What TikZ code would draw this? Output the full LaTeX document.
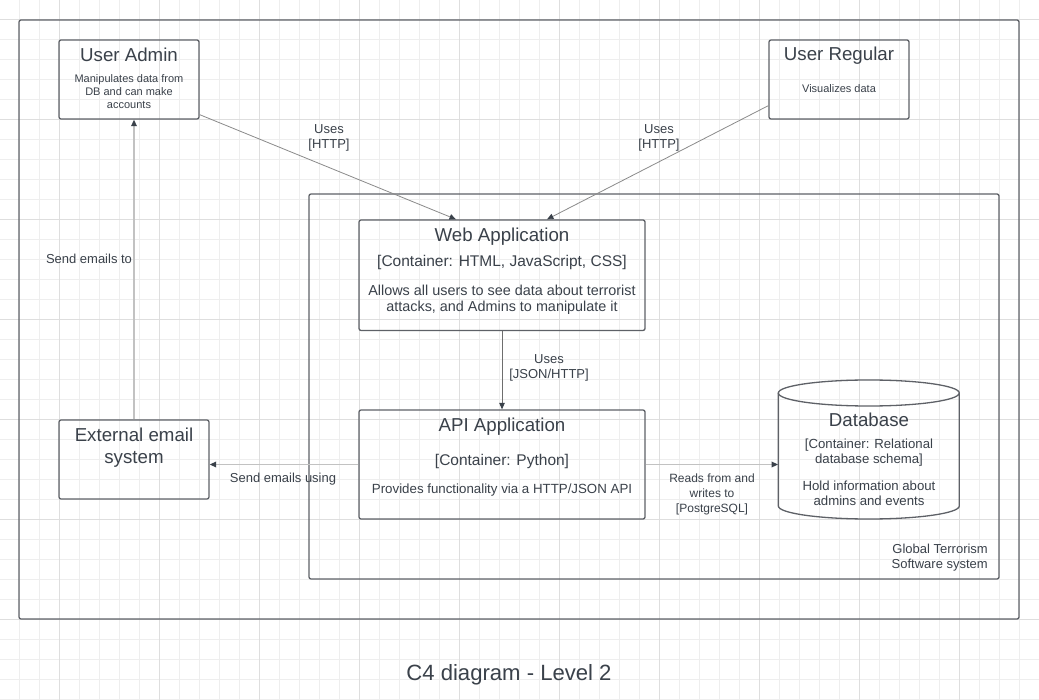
\documentclass[tikz,border=0pt]{standalone}
\usepackage{fontspec}
\setmainfont{Liberation Sans}
\usetikzlibrary{arrows.meta,calc}
\definecolor{textc}{HTML}{3A414A}
\definecolor{bordc}{HTML}{5E6167}
\definecolor{gridminor}{HTML}{EEEEEE}
\definecolor{gridmajor}{HTML}{DEDEDE}
\definecolor{lightline}{HTML}{C2C2C2}
\definecolor{midline}{HTML}{8A8A8A}
\newcommand\myfs[2]{\fontsize{#1}{#2}\selectfont}
\tikzset{
  frame/.style={draw=bordc, line width=1.3pt, rounded corners=2pt},
  box/.style={frame, inner sep=0pt},
  txt/.style={text=textc, inner sep=0pt, align=center, yshift=-0.8pt},
  ttl/.style={txt, font=\myfs{18.7}{22}},
  tip/.style={-{Triangle[length=6.5pt,width=5.5pt,color=textc]}},
  thinarrow/.style={tip, draw=midline, line width=0.8pt},
  lightarrow/.style={tip, draw=lightline, line width=1.6pt},
}
\begin{document}
\begin{tikzpicture}[x=1pt,y=-1pt]
% background and grid
\fill[white] (0,0) rectangle (1039,700);
\useasboundingbox (0,0) rectangle (1039,700);
\foreach \x in {19.3,39.3,...,1039} \draw[gridminor, line width=1pt] (\x,0) -- (\x,700);
\foreach \y in {19.5,39.5,...,700} \draw[gridminor, line width=1pt] (0,\y) -- (1039,\y);
\foreach \x in {59.3,159.3,...,1039} \draw[gridmajor, line width=1pt] (\x,0) -- (\x,700);
\foreach \y in {19.5,119.5,...,700} \draw[gridmajor, line width=1pt] (0,\y) -- (1039,\y);

% frames
\node[box, minimum width=1000pt, minimum height=599pt] (outer) at (519,319.5) {};
\node[box, minimum width=690pt, minimum height=385pt] (system) at (654,386.5) {};

% boxes
\node[box, minimum width=140pt, minimum height=79pt] (admin) at (129,79.5) {};
\node[box, minimum width=140pt, minimum height=79pt] (regular) at (839,79.5) {};
\node[box, minimum width=286pt, minimum height=110.5pt] (web) at (502,275.25) {};
\node[box, minimum width=286pt, minimum height=109pt] (api) at (502,464.5) {};
\node[box, minimum width=150pt, minimum height=79pt] (ext) at (134,459.5) {};
\node[inner sep=0pt, minimum width=181pt, minimum height=139pt] (db) at (868.8,449.5) {};
\draw[bordc, line width=1.3pt] (db.center |- 0,393) ellipse [x radius=90.5, y radius=13];
\draw[bordc, line width=1.3pt] (778.3,393) -- (778.3,506) arc[start angle=180, end angle=360, x radius=90.5, y radius=-13] -- (959.3,393);

% texts
\node[ttl] (adminT) at (129,54) {User Admin};
\node[txt, font=\myfs{11}{13}] (adminD) at (129,91) {Manipulates data from\\DB and can make\\accounts};
\node[ttl] (regularT) at (839,55) {User Regular};
\node[txt, font=\myfs{11}{13}] (regularD) at (839,88) {Visualizes data};
\node[ttl] (webT) at (502,235.5) {Web Application};
\node[txt, font=\myfs{15.5}{18}] (webC) at (502,262) {[Container: HTML, JavaScript, CSS]};
\node[txt, font=\myfs{14.4}{16.3}] (webD) at (502,299) {Allows all users to see data about terrorist\\attacks, and Admins to manipulate it};
\node[ttl] (apiT) at (502,426) {API Application};
\node[txt, font=\myfs{15.5}{18}] (apiC) at (502,460.5) {[Container: Python]};
\node[txt, font=\myfs{13.3}{16}] (apiD) at (502,489.5) {Provides functionality via a HTTP/JSON API};
\node[ttl] (dbT) at (869,419) {Database};
\node[txt, font=\myfs{13.2}{15}] (dbC) at (869,452) {[Container: Relational\\database schema]};
\node[txt, font=\myfs{13.2}{15}] (dbD) at (869,492) {Hold information about\\admins and events};
\node[ttl] (extT) at (134,446.5) {External email\\system};
\node[txt, font=\myfs{13}{15}, anchor=east, align=right] (sysL) at (988,557) {Global Terrorism\\Software system};

% connectors
\draw[thinarrow] ([yshift=5pt]admin.south east) -- ([xshift=-46pt]web.north);
\draw[thinarrow] ([yshift=14pt]regular.south west) -- ([xshift=45pt]web.north);
\draw[thinarrow, draw=midline!80!black] (web.south) -- (api.north);
\draw[lightarrow] (api.east) -- (api.east -| db.west);
\draw[lightarrow] (api.west) -- (api.west -| ext.east);
\draw[lightarrow] (ext.north) -- (ext.north |- admin.south);

% connector labels
\node[txt, font=\myfs{13}{15}] (l1) at (329,137) {Uses\\[0pt][HTTP]};
\node[txt, font=\myfs{13}{15}] (l2) at (659,137) {Uses\\[0pt][HTTP]};
\node[txt, font=\myfs{13}{15}] (l3) at (549,367) {Uses\\[0pt][JSON/HTTP]};
\node[txt, font=\myfs{12}{15}] (l4) at (712,493.5) {Reads from and\\writes to\\[0pt][PostgreSQL]};
\node[txt, font=\myfs{13}{15}] (l5) at (283,478.5) {Send emails using};
\node[txt, font=\myfs{13}{15}] (l6) at (89,258.5) {Send emails to};

% title
\node[txt, font=\myfs{22.1}{26}] (title) at (509,673.5) {C4 diagram - Level 2};
\end{tikzpicture}
\end{document}
